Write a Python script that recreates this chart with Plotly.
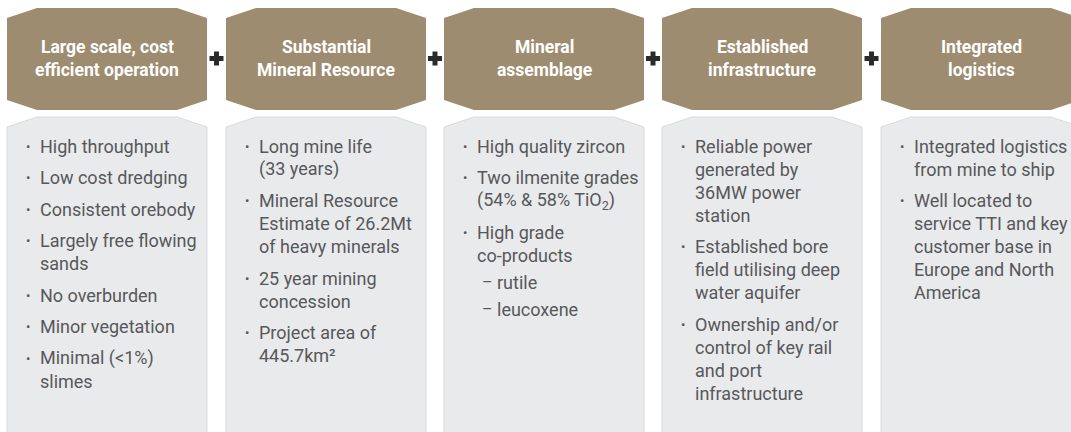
import plotly.graph_objects as go

# ---- content ----
headers = [
    ["Large scale, cost", "efficient operation"],
    ["Substantial", "Mineral Resource"],
    ["Mineral", "assemblage"],
    ["Established", "infrastructure"],
    ["Integrated", "logistics"],
]

col1 = [["High throughput"], ["Low cost dredging"], ["Consistent orebody"],
        ["Largely free flowing", "sands"], ["No overburden"], ["Minor vegetation"],
        ["Minimal (&lt;1%)", "slimes"]]
col2 = [["Long mine life", "(33 years)"],
        ["Mineral Resource", "Estimate of 26.2Mt", "of heavy minerals"],
        ["25 year mining", "concession"],
        ["Project area of", "445.7km²"]]
col3 = [["High quality zircon"],
        ["Two ilmenite grades", "(54% &amp; 58% TiO<sub>2</sub>)"],
        ["High grade", "co-products"]]
col3_sub = ["rutile", "leucoxene"]
col4 = [["Reliable power", "generated by", "36MW power", "station"],
        ["Established bore", "field utilising deep", "water aquifer"],
        ["Ownership and/or", "control of key rail", "and port", "infrastructure"]]
col5 = [["Integrated logistics", "from mine to ship"],
        ["Well located to", "service TTI and key", "customer base in",
         "Europe and North", "America"]]
columns = [col1, col2, col3, col4, col5]
subs = [[], [], col3_sub, [], []]

# ---- styling / layout constants ----
W, H = 1071, 432
HEAD_COLOR = "#9d8c70"
BODY_COLOR = "#e9eaeb"
TEXT_COLOR = "#57585b"
FONT = "Roboto"
box_left = [7, 226, 444, 662, 881]
box_w = 200
head_top, head_bot = 8, 110
body_top = 117
cdx, cdy = 30, 10
line_h = 23
item_gap = 31.5
sub_gap = 27
first_y = 146

fig = go.Figure()
shapes = []
annotations = []

for i, x0 in enumerate(box_left):
    x1 = x0 + box_w
    p = (f"M {x0},{head_top+cdy} L {x0+cdx},{head_top} L {x1-cdx},{head_top} "
         f"L {x1},{head_top+cdy} L {x1},{head_bot-cdy} L {x1-cdx},{head_bot} "
         f"L {x0+cdx},{head_bot} L {x0},{head_bot-cdy} Z")
    shapes.append(dict(type="path", path=p, fillcolor=HEAD_COLOR,
                       line=dict(width=0), xref="x", yref="y", layer="below"))
    p2 = (f"M {x0},{body_top+cdy} L {x0+cdx},{body_top} L {x1-cdx},{body_top} "
          f"L {x1},{body_top+cdy} L {x1},{H+5} L {x0},{H+5} Z")
    shapes.append(dict(type="path", path=p2, fillcolor=BODY_COLOR,
                       line=dict(width=1, color="#dadbdc"), xref="x", yref="y",
                       layer="below"))
    cx = x0 + box_w / 2
    for j, t in enumerate(headers[i]):
        annotations.append(dict(x=cx, y=47 + j * 23, text=f"<b>{t}</b>",
                                showarrow=False, xanchor="center", yanchor="middle",
                                font=dict(family=FONT, size=17.5, color="white")))
    y = first_y
    for k, item in enumerate(columns[i]):
        if k > 0:
            y += item_gap
        annotations.append(dict(x=x0 + 17, y=y, text="•", showarrow=False,
                                xanchor="left", yanchor="middle",
                                font=dict(family=FONT, size=13, color=TEXT_COLOR)))
        for m, line in enumerate(item):
            if m > 0:
                y += line_h
            annotations.append(dict(x=x0 + 31, y=y, text=line, showarrow=False,
                                    xanchor="left", yanchor="middle",
                                    font=dict(family=FONT, size=18, color=TEXT_COLOR)))
    for s in subs[i]:
        y += sub_gap
        annotations.append(dict(x=x0 + 36, y=y, text="–", showarrow=False,
                                xanchor="left", yanchor="middle",
                                font=dict(family=FONT, size=16, color=TEXT_COLOR)))
        annotations.append(dict(x=x0 + 51, y=y, text=s, showarrow=False,
                                xanchor="left", yanchor="middle",
                                font=dict(family=FONT, size=18, color=TEXT_COLOR)))

for i in range(len(box_left) - 1):
    c = (box_left[i] + box_w + box_left[i + 1]) / 2
    shapes.append(dict(type="rect", x0=c - 7, x1=c + 7, y0=56, y1=61,
                       fillcolor="#2b2b2b", line=dict(width=0), xref="x", yref="y"))
    shapes.append(dict(type="rect", x0=c - 2.5, x1=c + 2.5, y0=51.5, y1=65.5,
                       fillcolor="#2b2b2b", line=dict(width=0), xref="x", yref="y"))

fig.update_layout(
    width=W, height=H,
    margin=dict(l=0, r=0, t=0, b=0),
    paper_bgcolor="white", plot_bgcolor="white",
    xaxis=dict(range=[0, W], visible=False, fixedrange=True),
    yaxis=dict(range=[H, 0], visible=False, fixedrange=True),
    shapes=shapes, annotations=annotations, showlegend=False,
)
fig.write_html("out.html", config={"displayModeBar": False},
               post_script="document.body.style.margin='0px';document.body.style.overflow='hidden';")
